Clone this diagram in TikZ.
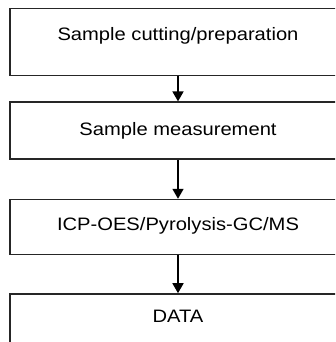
\documentclass[tikz,border=0pt]{standalone}
\usepackage{fontspec}
\setmainfont{Liberation Sans}
\usetikzlibrary{positioning,arrows.meta}

\newcommand{\wide}[1]{\scalebox{1.12}[1]{#1}}

\begin{document}
\begin{tikzpicture}[x=1pt, y=-1pt,
    stage/.style 2 args={draw=black!85, line width=1.4pt, minimum width=336pt,
        inner ysep=0pt, text height=#1, text depth=#2,
        font=\fontsize{18}{20}\selectfont},
    flow/.style={-{Triangle[length=10pt,width=11pt]}, line width=1.6pt}]

% Frame of the picture
\useasboundingbox (0,0) rectangle (335,342);
\clip (0,0) rectangle (335,342);

% Stages
\node[stage={32pt}{35pt}, anchor=north] (cut) at (178,8) {\wide{Sample cutting/preparation}};
\node[stage={33pt}{24pt}, below=25pt of cut] (meas) {\wide{Sample measurement}};
\node[stage={31pt}{24pt}, below=39pt of meas] (icp) {\wide{ICP-OES/Pyrolysis-GC/MS}};
\node[stage={29pt}{26pt}, below=38pt of icp] (data) {\wide{DATA}};

% Arrows
\draw[flow] (cut) -- (meas);
\draw[flow] (meas) -- (icp);
\draw[flow] (icp) -- (data);

\end{tikzpicture}
\end{document}
